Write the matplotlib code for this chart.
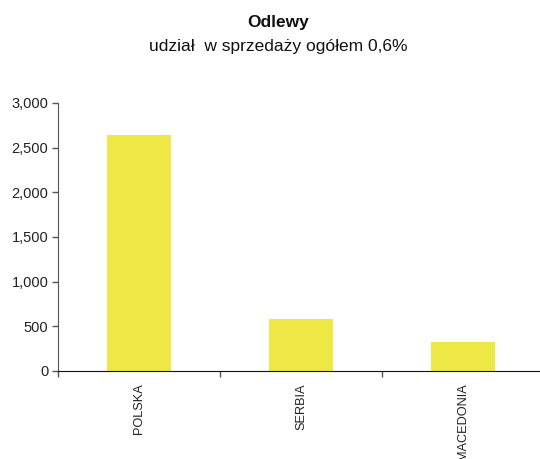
import matplotlib
matplotlib.use("Agg")
import matplotlib.pyplot as plt
import numpy as np

plt.rcParams['font.family'] = ['Liberation Sans', 'DejaVu Sans']

categories = ["POLSKA", "SERBIA", "MACEDONIA"]
values = [2640, 582, 325]
yticks = [0, 500, 1000, 1500, 2000, 2500, 3000]

fig = plt.figure(figsize=(5.4, 4.59), dpi=100)
ax = fig.add_axes([58/540, 1-371/459, 486/540, 268/459])

x = np.arange(len(categories))
ax.bar(x, values, width=0.4, color="#EEE844", zorder=2)

ax.set_xlim(-0.5, len(categories) - 0.5)
ax.set_ylim(0, 3000)
ax.set_yticks(yticks)
ax.set_yticklabels([f"{v:,}" for v in yticks], fontsize=10.5, color="#222222")
ax.tick_params(axis='y', length=4, width=1, color="#555555", pad=3)

ax.set_xticks(x)
ax.set_xticklabels(categories, rotation=90, fontsize=9.2, va='top', color="#222222")
ax.tick_params(axis='x', which='major', length=0, pad=9)
ax.set_xticks(np.arange(len(categories) + 1) - 0.5, minor=True)
ax.tick_params(axis='x', which='minor', length=4, width=1, color="#555555")

for s in ["top", "right"]:
    ax.spines[s].set_visible(False)
ax.spines["left"].set_color("#555555")
ax.spines["bottom"].set_color("#111111")

fig.text(278/540, 1-22/459, "Odlewy", ha='center', va='center',
         fontsize=12.5, fontweight='bold', color="#111111")
fig.text(278/540, 1-46/459, "udział  w sprzedaży ogółem 0,6%", ha='center',
         va='center', fontsize=12.5, color="#111111")

fig.savefig("out.png", dpi=100)
